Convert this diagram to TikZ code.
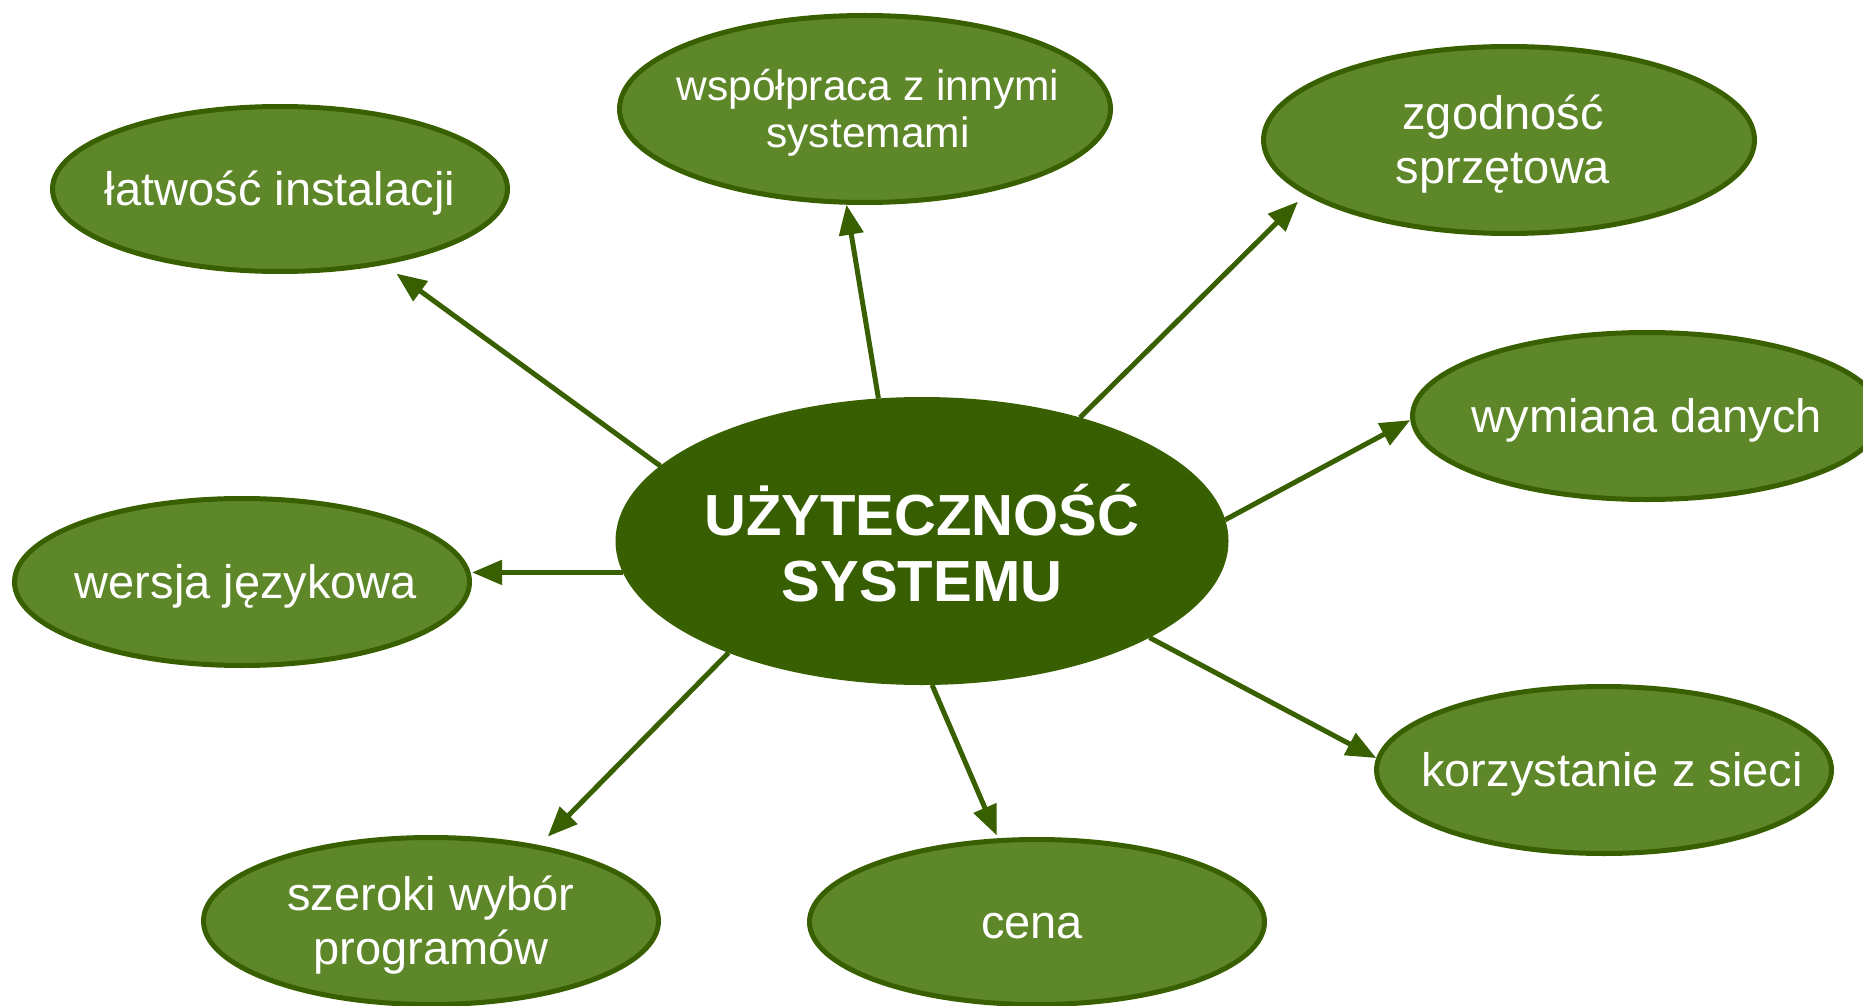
\documentclass[tikz,border=0pt]{standalone}
\usepackage{fontspec}
\setmainfont{Liberation Sans}
\usetikzlibrary{shapes.geometric,arrows.meta}
\definecolor{bubfill}{HTML}{5E872A}
\definecolor{bubedge}{HTML}{386000}
\definecolor{corefill}{HTML}{375E00}
\begin{document}
\begin{tikzpicture}[x=1pt,y=1pt,
 bub/.style={ellipse, draw=bubedge, line width=5pt, fill=bubfill, inner sep=0pt},
 txt/.style={text=white, align=center, font=\fontsize{47}{54}\selectfont, inner sep=0pt, yshift=-4pt},
 link/.style={draw=bubedge, line width=5pt, -{Triangle[length=30pt,width=24pt]}}]
\useasboundingbox (0,0) rectangle (1863,-1006);
\node[bub, fill=corefill, minimum width=608pt, minimum height=283pt] (C) at (922,-541) {};
\node[bub, minimum width=455pt, minimum height=165pt] (L) at (280,-189) {};
\node[bub, minimum width=491pt, minimum height=187pt] (W) at (865,-109) {};
\node[bub, minimum width=491pt, minimum height=187pt] (Z) at (1509,-140) {};
\node[bub, minimum width=469pt, minimum height=167pt] (D) at (1647,-416) {};
\node[bub, minimum width=455pt, minimum height=167pt] (J) at (242,-582) {};
\node[bub, minimum width=455pt, minimum height=167pt] (S) at (431,-921) {};
\node[bub, minimum width=455pt, minimum height=165pt] (P) at (1037,-922) {};
\node[bub, minimum width=455pt, minimum height=167pt] (K) at (1604,-770) {};
\node[txt, yshift=2pt, font=\bfseries\fontsize{58}{66}\selectfont] (Ct) at (C) {UŻYTECZNOŚĆ\\SYSTEMU};
\node[txt] (Lt) at (L) {łatwość instalacji};
\node[txt, xshift=3pt, font=\fontsize{42.5}{47}\selectfont] (Wt) at (W) {współpraca z innymi\\systemami};
\node[txt, xshift=-6pt] (Zt) at (Z) {zgodność\\sprzętowa};
\node[txt] (Dt) at (D) {wymiana danych};
\node[txt, xshift=4pt] (Jt) at (J) {wersja językowa};
\node[txt] (St) at (S) {szeroki wybór\\programów};
\node[txt, xshift=-5pt] (Pt) at (P) {cena};
\node[txt, xshift=8pt] (Kt) at (K) {korzystanie z sieci};
\draw[link, shorten >=15pt] (C.164.8) -- (L.324.1);
\draw[link] (C.107.5) -- (W.259.9);
\draw[link, shorten >=10pt] (C.38.6) -- (Z.195.4);
\draw[link] (C.4.3) -- (D.181.9);
\draw[link] (C.186.6) -- (C.186.6 -| J.east);
\draw[link, shorten >=12pt] (C.210.2) -- (S.35.8);
\draw[link, shorten >=3pt] (C.274.8) -- (P.115.5);
\draw[link] (C.337.3) -- (K.177.7);
\end{tikzpicture}
\end{document}
